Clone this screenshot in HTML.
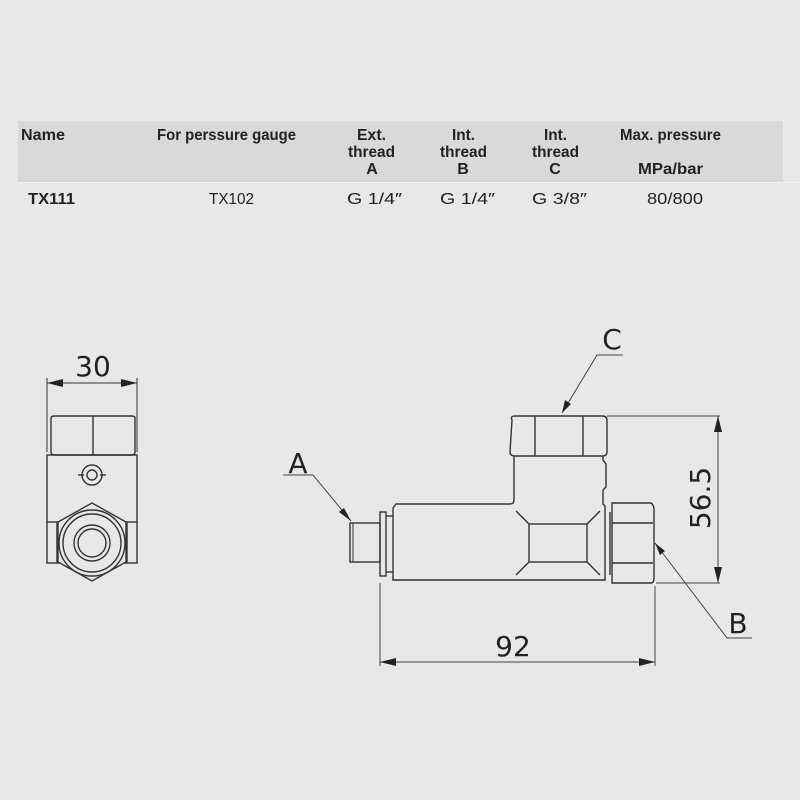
<!DOCTYPE html>
<html><head><meta charset="utf-8"><style>
html,body{margin:0;padding:0;background:#e8e8e8;}
svg{display:block}
.t{font-family:"Liberation Sans",sans-serif;font-size:16px;fill:#222}
.b{font-weight:bold}
.d{font-family:"DejaVu Sans","Liberation Sans",sans-serif;fill:#222}
</style></head><body>
<svg width="800" height="800" viewBox="0 0 800 800" xmlns="http://www.w3.org/2000/svg">
<rect width="800" height="800" fill="#e8e8e8"/>
<rect x="18" y="121" width="765" height="61" fill="#d9d9d9"/>
<rect x="18" y="182" width="782" height="1" fill="#f2f2f2"/>
<g class="t b" lengthAdjust="spacingAndGlyphs">
<text x="21" y="140" textLength="44" lengthAdjust="spacingAndGlyphs">Name</text>
<text x="157" y="140" textLength="139" lengthAdjust="spacingAndGlyphs">For perssure gauge</text>
<text x="357" y="140" textLength="29" lengthAdjust="spacingAndGlyphs">Ext.</text>
<text x="348" y="157" textLength="47" lengthAdjust="spacingAndGlyphs">thread</text>
<text x="372" y="174" text-anchor="middle">A</text>
<text x="452" y="140" textLength="23" lengthAdjust="spacingAndGlyphs">Int.</text>
<text x="440" y="157" textLength="47" lengthAdjust="spacingAndGlyphs">thread</text>
<text x="463" y="174" text-anchor="middle">B</text>
<text x="544" y="140" textLength="23" lengthAdjust="spacingAndGlyphs">Int.</text>
<text x="532" y="157" textLength="47" lengthAdjust="spacingAndGlyphs">thread</text>
<text x="555" y="174" text-anchor="middle">C</text>
<text x="620" y="140" textLength="101" lengthAdjust="spacingAndGlyphs">Max. pressure</text>
<text x="638" y="174" textLength="65" lengthAdjust="spacingAndGlyphs">MPa/bar</text>
<text x="28" y="204" textLength="47" lengthAdjust="spacingAndGlyphs">TX111</text>
</g>
<g class="t">
<text x="209" y="204" textLength="45" lengthAdjust="spacingAndGlyphs">TX102</text>
<text x="347" y="204" textLength="55" lengthAdjust="spacingAndGlyphs">G 1/4″</text>
<text x="440" y="204" textLength="55" lengthAdjust="spacingAndGlyphs">G 1/4″</text>
<text x="532" y="204" textLength="55" lengthAdjust="spacingAndGlyphs">G 3/8″</text>
<text x="647" y="204" textLength="56" lengthAdjust="spacingAndGlyphs">80/800</text>
</g>

<g fill="none" stroke="#333" stroke-width="1.4">
<line x1="47" y1="378" x2="47" y2="452" stroke-width="1"/>
<line x1="137" y1="378" x2="137" y2="452" stroke-width="1"/>
<line x1="47" y1="383" x2="137" y2="383" stroke-width="1"/>
<path d="M51,418 Q51,416 55,416 L131,416 Q135,416 135,418 L135,452 Q135,455 131,455 L55,455 Q51,455 51,452 Z"/>
<line x1="93" y1="416" x2="93" y2="455"/>
<rect x="47" y="455" width="90" height="108"/>
<circle cx="92" cy="475" r="10"/><circle cx="92" cy="475" r="5"/>
<line x1="78" y1="475" x2="84" y2="475"/><line x1="100" y1="475" x2="106" y2="475"/>
<line x1="47" y1="522" x2="60" y2="522"/><line x1="124" y1="522" x2="137" y2="522"/>
<line x1="57" y1="522" x2="57" y2="563"/><line x1="127" y1="522" x2="127" y2="563"/>
<polygon points="92,503 126,522 126,562 92,581 58,562 58,522" fill="#e8e8e8"/>
<circle cx="92" cy="543" r="33"/><circle cx="92" cy="543" r="29"/>
<circle cx="92" cy="543" r="18"/><circle cx="92" cy="543" r="14"/>

<path d="M512,420 Q510,416 515,416 L602,416 Q607,416 607,420 L607,452 Q607,456 602,456 L515,456 Q510,456 510,452 Z"/>
<line x1="535" y1="416" x2="535" y2="456"/><line x1="583" y1="416" x2="583" y2="456"/>
<path d="M514,456 L514,500 Q514,504 510,504 L396,504 L393,508 L393,580 L605,580 L605,506 L603,504 L603,490 L606,487 L606,464 L603,460 L603,456"/>
<rect x="380" y="512" width="6" height="64"/>
<line x1="386" y1="516" x2="393" y2="516"/><line x1="386" y1="572" x2="393" y2="572"/>
<rect x="350" y="523" width="30" height="39"/>
<line x1="353" y1="523" x2="353" y2="562" stroke-width="1"/>
<rect x="529" y="524" width="58" height="38"/>
<line x1="529" y1="524" x2="516" y2="511"/><line x1="587" y1="524" x2="600" y2="511"/>
<line x1="529" y1="562" x2="516" y2="575"/><line x1="587" y1="562" x2="600" y2="575"/>
<line x1="610" y1="512" x2="610" y2="575"/>
<path d="M612,503 L651,503 Q654,505 654,510 L654,578 Q654,583 651,583 L612,583 Z"/>
<line x1="612" y1="523" x2="653" y2="523"/><line x1="612" y1="563" x2="653" y2="563"/>
</g>

<g stroke="#444" stroke-width="1" fill="none">
<line x1="607" y1="416" x2="720" y2="416"/>
<line x1="656" y1="583" x2="720" y2="583"/>
<line x1="718" y1="416" x2="718" y2="583"/>
<line x1="380" y1="583" x2="380" y2="666"/>
<line x1="655" y1="586" x2="655" y2="666"/>
<line x1="380" y1="662" x2="655" y2="662"/>
<polyline points="623,355 597,355 562,413"/>
<polyline points="283,475 313,475 351,521"/>
<polyline points="752,638 727,638 655,543"/>
</g>
<g fill="#222">
<polygon points="718,416 714,432 722,432"/>
<polygon points="718,583 714,567 722,567"/>
<polygon points="380,662 396,658 396,666"/>
<polygon points="655,662 639,658 639,666"/>
<polygon points="47,383 63,379 63,387"/>
<polygon points="137,383 121,379 121,387"/>
<polygon points="562,413 565,400 571,404"/>
<polygon points="351,521 339,512 344,508"/>
<polygon points="655,543 660,555 665,551"/>
</g>
<g class="d">
<text x="93" y="376" font-size="28" text-anchor="middle">30</text>
<text x="513" y="656" font-size="28" text-anchor="middle">92</text>
<text transform="translate(710,498) rotate(-90)" font-size="28" text-anchor="middle">56.5</text>
<text x="612" y="349" font-size="28" text-anchor="middle">C</text>
<text x="298" y="473" font-size="28" text-anchor="middle">A</text>
<text x="738" y="633" font-size="28" text-anchor="middle">B</text>
</g>
</svg>
</body></html>
